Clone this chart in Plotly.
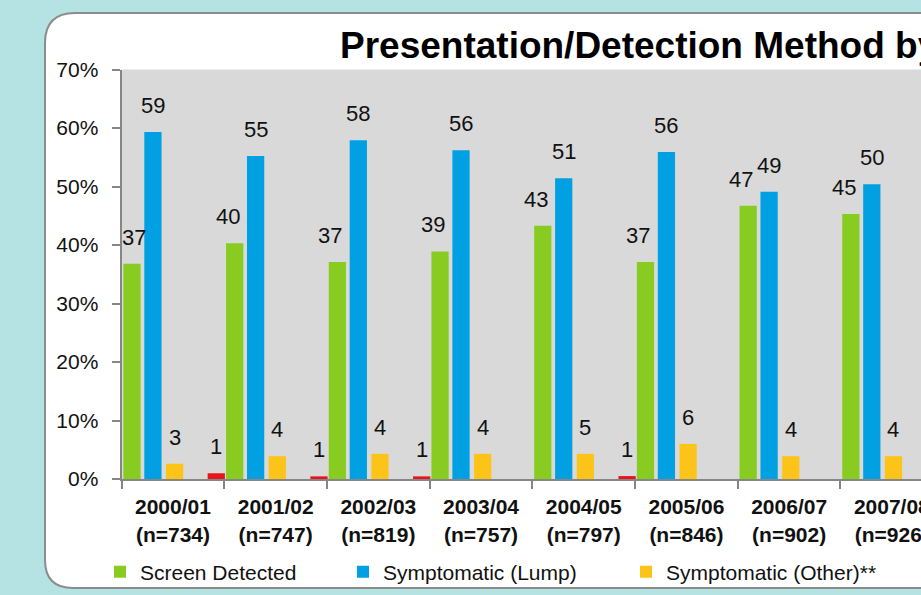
import plotly.graph_objects as go

W, H = 921, 595

years = ["2000/01", "2001/02", "2002/03", "2003/04", "2004/05", "2005/06", "2006/07", "2007/08"]
counts = ["734", "747", "819", "757", "797", "846", "902", "926"]
categories = [f"<b>{y}<br>(n={n})</b>" for y, n in zip(years, counts)]

screen_detected = [36.8, 40.3, 37.1, 38.9, 43.3, 37.1, 46.7, 45.3]
screen_labels = ["37", "40", "37", "39", "43", "37", "47", "45"]
lump = [59.3, 55.2, 57.9, 56.2, 51.4, 55.9, 49.1, 50.4]
lump_labels = ["59", "55", "58", "56", "51", "56", "49", "50"]
other = [2.6, 3.9, 4.3, 4.3, 4.3, 6.0, 3.9, 3.9]
other_labels = ["3", "4", "4", "4", "5", "6", "4", "4"]
not_known = [1.0, 0.45, 0.45, None, 0.5, None, None, None]
not_known_labels = ["1", "1", "1", "", "1", "", "", ""]

y_ticks = [0, 10, 20, 30, 40, 50, 60, 70]
y_tick_labels = [f"{t}%" for t in y_ticks]

FONT = "Liberation Sans, Arial, sans-serif"
BG = "#B5E2E2"
BAR_W = 0.168
series = [
    ("Screen Detected", screen_detected, screen_labels, "#88CC22", -0.483, "legend"),
    ("Symptomatic (Lump)", lump, lump_labels, "#00A0E3", -0.279, "legend2"),
    ("Symptomatic (Other)**", other, other_labels, "#FCC419", -0.068, "legend3"),
    ("Not Known", not_known, not_known_labels, "#E8141C", 0.338, None),
]

def px_x(p):
    return p / W

def px_y(p):
    return 1 - p / H

fig = go.Figure()
annotations = []
for name, vals, labels, color, off, leg in series:
    kw = dict(legend=leg) if leg else dict(showlegend=False)
    fig.add_trace(go.Bar(
        x=categories, y=vals, name=name, width=BAR_W, offset=off,
        marker=dict(color=color, line=dict(width=0)), hoverinfo="skip", **kw))
    for j, (v, lab) in enumerate(zip(vals, labels)):
        if v is None or not lab:
            continue
        xs = 0
        if name == "Screen Detected":
            xs = 2 if j == 0 else -7
        annotations.append(dict(
            x=j + off + BAR_W / 2, y=v, xref="x", yref="y", text=lab,
            showarrow=False, yanchor="bottom", yshift=12, xshift=xs,
            font=dict(family=FONT, size=22, color="#111111")))

annotations.append(dict(
    x=px_x(338), y=px_y(46), xref="paper", yref="paper", xanchor="left", yanchor="middle",
    text="<b>Presentation/Detection Method by Year</b>", showarrow=False,
    font=dict(family=FONT, size=37, color="#000000")))

panel = (f"M {px_x(45)},{px_y(43)} Q {px_x(45)},{px_y(13)} {px_x(75)},{px_y(13)} "
         f"L {px_x(960)},{px_y(13)} L {px_x(960)},{px_y(588)} L {px_x(73)},{px_y(588)} "
         f"Q {px_x(45)},{px_y(588)} {px_x(45)},{px_y(560)} Z")

shapes = [
    dict(type="path", path=panel, xref="paper", yref="paper", layer="below",
         fillcolor="#FFFFFF", line=dict(color="#8C8C8C", width=2)),
    dict(type="rect", xref="paper", yref="paper", layer="below",
         x0=px_x(121.6), x1=px_x(960), y0=px_y(479), y1=px_y(69.5),
         fillcolor="#D9D9D9", line=dict(width=0)),
]

legend_common = dict(orientation="h", yanchor="middle", y=px_y(572), xanchor="left",
                     font=dict(family=FONT, size=21, color="#111111"),
                     bgcolor="rgba(0,0,0,0)", borderwidth=0, itemclick=False,
                     itemdoubleclick=False)

fig.update_layout(
    width=W, height=H,
    margin=dict(l=0, r=0, t=0, b=0, autoexpand=False),
    paper_bgcolor=BG,
    plot_bgcolor="rgba(0,0,0,0)",
    barmode="group",
    font=dict(family=FONT, color="#000000"),
    xaxis=dict(
        domain=[px_x(121.6), 1], range=[-0.5, 7.284], type="category",
        showline=True, linecolor="#868686", linewidth=2,
        ticks="outside", tickson="boundaries", ticklen=8, tickwidth=2, tickcolor="#868686",
        showgrid=False, zeroline=False, ticklabeloverflow="allow", ticklabelstandoff=8,
        tickfont=dict(family=FONT, size=21, color="#111111")),
    yaxis=dict(
        domain=[px_y(479), px_y(69.5)], range=[0, 70],
        tickmode="array", tickvals=y_ticks, ticktext=y_tick_labels,
        showline=True, linecolor="#868686", linewidth=2,
        ticks="outside", ticklen=8, tickwidth=2, tickcolor="#868686",
        showgrid=False, zeroline=False, ticklabelstandoff=9,
        tickfont=dict(family=FONT, size=21, color="#111111")),
    legend=dict(x=px_x(100), **legend_common),
    legend2=dict(x=px_x(343), **legend_common),
    legend3=dict(x=px_x(626), **legend_common),
    annotations=annotations,
    shapes=shapes,
)

fig.write_html(
    "out.html",
    config={"displayModeBar": False, "staticPlot": True},
    post_script=f"document.body.style.margin='0';document.body.style.overflow='hidden';"
                f"document.body.style.background='{BG}';",
)
